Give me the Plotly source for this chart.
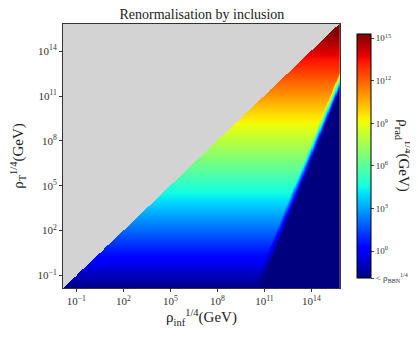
import numpy as np
import plotly.graph_objects as go

# eixos em log10(GeV)
log_range = [-1.85, 15.82]
axis_ticks = [-1, 2, 5, 8, 11, 14]
axis_ticktext = ['10<sup>−1</sup>', '10<sup>2</sup>', '10<sup>5</sup>',
                 '10<sup>8</sup>', '10<sup>11</sup>', '10<sup>14</sup>']

# escala de cor (log10 rho_rad^1/4)
c_min = -1.9
c_max = 15.3
cbar_ticks = [-1.9, 0, 3, 6, 9, 12, 15]
small = '<span style="font-size:6px">{}</span>'
cbar_ticktext = ['< ρ<sub>' + small.format('BBN') + '</sub><sup>' + small.format('1/4') + '</sup>',
                 '10<sup>0</sup>', '10<sup>3</sup>', '10<sup>6</sup>', '10<sup>9</sup>',
                 '10<sup>12</sup>', '10<sup>15</sup>']

# fronteira da região abaixo do BBN: (log x, log y)
bbn_edge_x = [10.8, 15.82]
bbn_edge_y = [-1.85, 11.3]
edge_width = 1.3  # largura da transição em décadas de rho_T

lx = np.linspace(log_range[0], log_range[1], 520)
ly = np.linspace(log_range[0], log_range[1], 520)
X, Y = np.meshgrid(lx, ly)

slope = (bbn_edge_y[1] - bbn_edge_y[0]) / (bbn_edge_x[1] - bbn_edge_x[0])
y_edge = bbn_edge_y[0] + slope * (X - bbn_edge_x[0])
t = np.clip((Y - y_edge) / edge_width, 0, 1)
Z = c_min + (Y - c_min) * t
Z = np.clip(Z, c_min, c_max)
Z[Y > X] = np.nan

# jet do matplotlib
red = [(0, 0), (0.35, 0), (0.66, 1), (0.89, 1), (1, 0.5)]
green = [(0, 0), (0.125, 0), (0.375, 1), (0.64, 1), (0.91, 0), (1, 0)]
blue = [(0, 0.5), (0.11, 1), (0.34, 1), (0.65, 0), (1, 0)]
stops = sorted(set([p for seg in (red, green, blue) for p, _ in seg]))
jet = []
for s in stops:
    r = np.interp(s, *zip(*red))
    g = np.interp(s, *zip(*green))
    b = np.interp(s, *zip(*blue))
    jet.append([s, f'rgb({int(r*255)},{int(g*255)},{int(b*255)})'])

font = 'Liberation Serif'

fig = go.Figure(go.Heatmap(
    x=lx, y=ly, z=Z,
    zmin=c_min, zmax=c_max,
    colorscale=jet,
    hoverongaps=False,
    colorbar=dict(
        x=0.828, xanchor='left', xpad=0, y=0.5, len=1.0, lenmode='fraction',
        thickness=14, outlinewidth=1, outlinecolor='black',
        tickvals=cbar_ticks, ticktext=cbar_ticktext,
        ticks='outside', ticklen=3, tickfont=dict(size=9, family=font, color='#333'),
    ),
))

axis_style = dict(
    range=log_range, tickvals=axis_ticks, ticktext=axis_ticktext,
    ticks='outside', ticklen=3, tickcolor='#333',
    showline=True, linecolor='#333', linewidth=1, mirror=True,
    showgrid=False, zeroline=False, automargin=False,
    tickfont=dict(size=11, family=font, color='#333'),
)

# a página tem margem de 8px no body, por isso a figura é 410x331
fig.update_layout(
    width=410, height=331,
    margin=dict(l=55, r=0, t=16, b=51, autoexpand=False),
    plot_bgcolor='#d3d3d3',
    paper_bgcolor='white',
    font=dict(family=font, color='#222'),
    title=dict(text='Renormalisation by inclusion', x=0.473, xanchor='center',
               y=0.996, yanchor='top', pad=dict(t=0), font=dict(size=14, family=font)),
    xaxis=dict(axis_style, domain=[0, 0.780],
               title=dict(text='ρ<sub>inf</sub><sup>1/4</sup>(GeV)',
                          font=dict(size=15, family=font), standoff=4)),
    yaxis=dict(axis_style, title=dict(text='ρ<sub>T</sub><sup>1/4</sup>(GeV)',
                                       font=dict(size=15, family=font), standoff=21)),
    annotations=[dict(
        text='ρ<sub>rad</sub><sup>1/4</sup>(GeV)', textangle=90,
        xref='paper', yref='paper', x=0.96, y=0.5, xanchor='center', yanchor='middle',
        showarrow=False, font=dict(size=15, family=font),
    )],
)

fig.write_html("out.html")
